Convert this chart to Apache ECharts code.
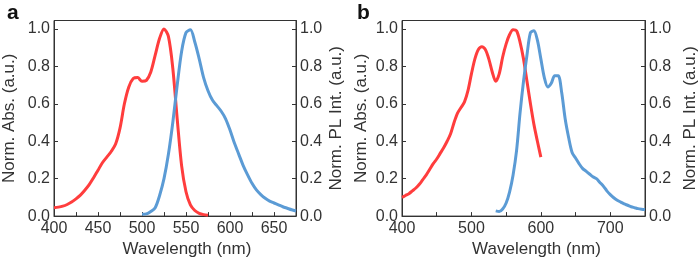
<!DOCTYPE html>
<html>
<head>
<meta charset="utf-8">
<script src="https://cdn.jsdelivr.net/npm/echarts@6/dist/echarts.min.js"></script>
<style>
  html, body { margin: 0; padding: 0; background: #fff; }
  #chart { width: 700px; height: 263px; }
</style>
</head>
<body>
<div id="chart"></div>
<script>
// panel a: absorption (red) and PL (blue)
const absA_wl = [400, 405, 410, 415, 420, 425, 430, 435, 440, 445, 450, 455, 460, 465, 470, 475, 480, 485, 490, 495, 500, 505, 510, 515, 520, 525, 530, 535, 540, 545, 550, 555, 560, 565, 570, 575];
const absA_val = [0.045, 0.048, 0.053, 0.062, 0.075, 0.092, 0.112, 0.138, 0.168, 0.205, 0.245, 0.285, 0.315, 0.345, 0.385, 0.47, 0.6, 0.69, 0.735, 0.74, 0.72, 0.725, 0.77, 0.86, 0.95, 1.0, 0.96, 0.79, 0.52, 0.27, 0.13, 0.06, 0.03, 0.015, 0.008, 0.005];
const plA_wl = [500, 505, 510, 515, 520, 525, 530, 535, 540, 545, 550, 555, 560, 565, 570, 575, 580, 585, 590, 595, 600, 605, 610, 615, 620, 625, 630, 635, 640, 645, 650, 655, 660, 665, 670, 675];
const plA_val = [0.01, 0.012, 0.025, 0.045, 0.11, 0.2, 0.33, 0.5, 0.7, 0.88, 0.98, 0.995, 0.93, 0.84, 0.74, 0.67, 0.62, 0.59, 0.56, 0.52, 0.46, 0.39, 0.33, 0.27, 0.22, 0.175, 0.14, 0.115, 0.095, 0.08, 0.07, 0.06, 0.05, 0.042, 0.034, 0.027];

// panel b
const absB_wl = [400, 405, 410, 415, 420, 425, 430, 435, 440, 445, 450, 455, 460, 465, 470, 475, 480, 485, 490, 495, 500, 505, 510, 515, 520, 525, 530, 535, 540, 545, 550, 555, 560, 565, 570, 575, 580, 585, 590, 595, 600];
const absB_val = [0.10, 0.11, 0.12, 0.135, 0.15, 0.17, 0.195, 0.22, 0.25, 0.28, 0.305, 0.335, 0.365, 0.4, 0.44, 0.5, 0.55, 0.58, 0.61, 0.67, 0.76, 0.84, 0.89, 0.905, 0.89, 0.84, 0.77, 0.72, 0.76, 0.85, 0.92, 0.97, 0.995, 0.99, 0.93, 0.84, 0.72, 0.6, 0.49, 0.4, 0.315];
const plB_wl = [535, 540, 545, 550, 555, 560, 565, 570, 575, 580, 585, 590, 595, 600, 605, 610, 615, 620, 625, 630, 635, 640, 645, 650, 655, 660, 665, 670, 675, 680, 685, 690, 695, 700, 705, 710, 715, 720, 725, 730, 735, 740, 745, 750];
const plB_val = [0.028, 0.025, 0.038, 0.07, 0.13, 0.22, 0.35, 0.55, 0.72, 0.86, 0.98, 0.99, 0.94, 0.84, 0.74, 0.69, 0.71, 0.75, 0.75, 0.66, 0.52, 0.42, 0.34, 0.31, 0.28, 0.255, 0.24, 0.225, 0.21, 0.2, 0.18, 0.16, 0.135, 0.115, 0.098, 0.085, 0.075, 0.065, 0.058, 0.05, 0.045, 0.04, 0.037, 0.035];

const panelLabels = ["a", "b"];
const xRanges = [[400, 675, 50], [400, 750, 100]];
const yTicks = [0, 0.2, 0.4, 0.6, 0.8, 1.0];

const FONT = "Liberation Sans, Arial, sans-serif";
const AXIS_COLOR = "#333";
const RED = "#FF3D3D";
const BLUE = "#5B9BD5";

function pairs(xs, ys) {
  return xs.map((x, i) => [x, ys[i]]);
}

let chart = echarts.init(document.getElementById("chart"));

const grids = [
  { left: 48, top: 20.5, width: 248, height: 197.5 },
  { left: 402, top: 20.5, width: 247.5, height: 197.5 },
];
// gap of the y-axis names: [left, right] per panel
const nameGaps = [[36, 32], [32, 37]];
const xNameShift = [24, 26];

function xAxisFor(i) {
  return {
    type: "value",
    gridIndex: i,
    min: xRanges[i][0],
    max: xRanges[i][1],
    interval: xRanges[i][2],
    name: "Wavelength (nm)",
    nameLocation: "middle",
    nameGap: 24,
    nameTextStyle: { fontFamily: FONT, fontSize: 17, color: AXIS_COLOR, padding: [0, 0, 0, xNameShift[i]] },
    axisLine: { show: true, lineStyle: { color: AXIS_COLOR, width: 1 } },
    axisTick: { show: true, inside: true, length: 4, lineStyle: { color: AXIS_COLOR } },
    minorTick: { show: true, splitNumber: 2, length: 4, lineStyle: { color: AXIS_COLOR } },
    axisLabel: { fontFamily: FONT, fontSize: 16, color: AXIS_COLOR, margin: 4, showMaxLabel: false },
    splitLine: { show: false },
  };
}

function yAxisFor(i, side) {
  return {
    type: "value",
    gridIndex: i,
    position: side,
    min: 0,
    max: 1.045,
    interval: 0.2,
    name: side === "left" ? "Norm. Abs. (a.u.)" : "Norm. PL Int. (a.u.)",
    nameLocation: "middle",
    nameRotate: 90,
    nameGap: nameGaps[i][side === "left" ? 0 : 1],
    nameTextStyle: { fontFamily: FONT, fontSize: 17, color: AXIS_COLOR },
    axisLine: { show: true, lineStyle: { color: AXIS_COLOR, width: 1 } },
    axisTick: { show: true, inside: true, length: 4, lineStyle: { color: AXIS_COLOR } },
    axisLabel: {
      fontFamily: FONT, fontSize: 16, color: AXIS_COLOR, margin: 4,
      showMaxLabel: false,
      formatter: (v) => (yTicks.some((t) => Math.abs(t - v) < 1e-6) ? v.toFixed(1) : ""),
    },
    splitLine: { show: false },
  };
}

function lineSeries(xi, yi, data, color) {
  return {
    type: "line",
    xAxisIndex: xi,
    yAxisIndex: yi,
    data: data,
    smooth: 0.3,
    symbol: "none",
    lineStyle: { color: color, width: 3 },
    animation: false,
  };
}

let option = {
  animation: false,
  title: panelLabels.map((t, i) => ({
    text: t,
    left: i === 0 ? 2 : 352,
    top: -2,
    textStyle: { fontFamily: FONT, fontSize: 21, fontWeight: "bold", color: "#111" },
  })),
  grid: grids.map((g) => Object.assign({ show: true, borderColor: AXIS_COLOR, borderWidth: 1, backgroundColor: "transparent" }, g)),
  xAxis: [xAxisFor(0), xAxisFor(1)],
  yAxis: [yAxisFor(0, "left"), yAxisFor(0, "right"), yAxisFor(1, "left"), yAxisFor(1, "right")],
  series: [
    lineSeries(0, 0, pairs(absA_wl, absA_val), RED),
    lineSeries(0, 1, pairs(plA_wl, plA_val), BLUE),
    lineSeries(1, 2, pairs(absB_wl, absB_val), RED),
    lineSeries(1, 3, pairs(plB_wl, plB_val), BLUE),
  ],
};

chart.setOption(option);
</script>
</body>
</html>
